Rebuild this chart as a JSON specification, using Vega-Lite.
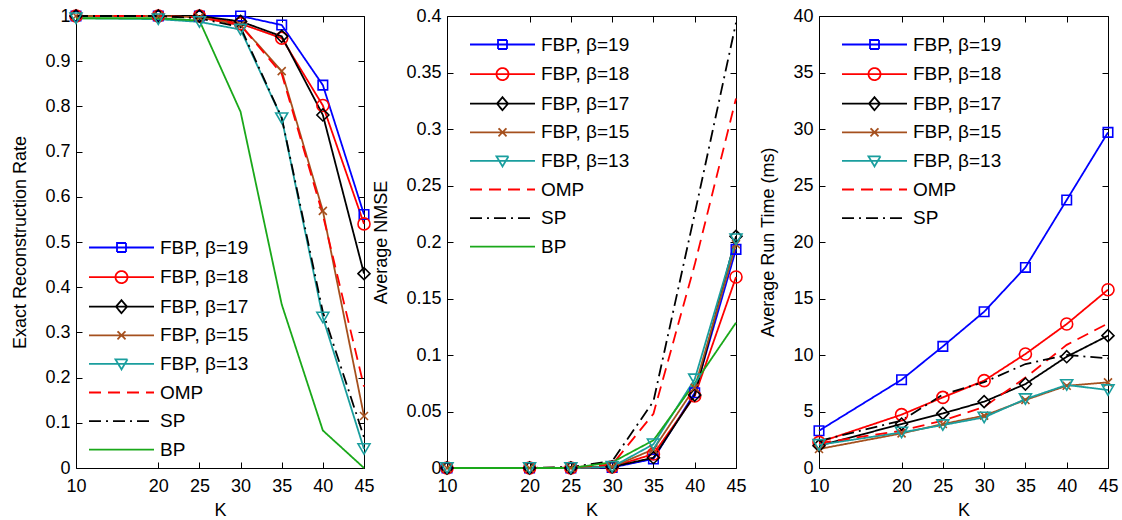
{
  "$schema": "https://vega.github.io/schema/vega-lite/v6.json",
  "background": "white",
  "padding": {"left": 11, "top": 6, "right": 5, "bottom": 5},
  "spacing": 83,
  "bounds": "flush",
  "datasets": {
    "rate": [
      {"series": "FBP, β=19", "K": 10, "value": 1}, {"series": "FBP, β=19", "K": 20, "value": 1}, {"series": "FBP, β=19", "K": 25, "value": 1}, {"series": "FBP, β=19", "K": 30, "value": 1}, {"series": "FBP, β=19", "K": 35, "value": 0.98}, {"series": "FBP, β=19", "K": 40, "value": 0.847}, {"series": "FBP, β=19", "K": 45, "value": 0.561},
      {"series": "FBP, β=18", "K": 10, "value": 1}, {"series": "FBP, β=18", "K": 20, "value": 1}, {"series": "FBP, β=18", "K": 25, "value": 1}, {"series": "FBP, β=18", "K": 30, "value": 0.983}, {"series": "FBP, β=18", "K": 35, "value": 0.951}, {"series": "FBP, β=18", "K": 40, "value": 0.802}, {"series": "FBP, β=18", "K": 45, "value": 0.54},
      {"series": "FBP, β=17", "K": 10, "value": 1}, {"series": "FBP, β=17", "K": 20, "value": 1}, {"series": "FBP, β=17", "K": 25, "value": 1}, {"series": "FBP, β=17", "K": 30, "value": 0.988}, {"series": "FBP, β=17", "K": 35, "value": 0.955}, {"series": "FBP, β=17", "K": 40, "value": 0.781}, {"series": "FBP, β=17", "K": 45, "value": 0.43},
      {"series": "FBP, β=15", "K": 10, "value": 1}, {"series": "FBP, β=15", "K": 20, "value": 1}, {"series": "FBP, β=15", "K": 25, "value": 0.997}, {"series": "FBP, β=15", "K": 30, "value": 0.98}, {"series": "FBP, β=15", "K": 35, "value": 0.878}, {"series": "FBP, β=15", "K": 40, "value": 0.569}, {"series": "FBP, β=15", "K": 45, "value": 0.115},
      {"series": "FBP, β=13", "K": 10, "value": 0.995}, {"series": "FBP, β=13", "K": 20, "value": 0.993}, {"series": "FBP, β=13", "K": 25, "value": 0.987}, {"series": "FBP, β=13", "K": 30, "value": 0.97}, {"series": "FBP, β=13", "K": 35, "value": 0.774}, {"series": "FBP, β=13", "K": 40, "value": 0.333}, {"series": "FBP, β=13", "K": 45, "value": 0.042},
      {"series": "OMP", "K": 10, "value": 1}, {"series": "OMP", "K": 20, "value": 1}, {"series": "OMP", "K": 25, "value": 0.997}, {"series": "OMP", "K": 30, "value": 0.98}, {"series": "OMP", "K": 35, "value": 0.872}, {"series": "OMP", "K": 40, "value": 0.56}, {"series": "OMP", "K": 45, "value": 0.18},
      {"series": "SP", "K": 10, "value": 1}, {"series": "SP", "K": 20, "value": 1}, {"series": "SP", "K": 25, "value": 0.995}, {"series": "SP", "K": 30, "value": 0.975}, {"series": "SP", "K": 35, "value": 0.775}, {"series": "SP", "K": 40, "value": 0.345}, {"series": "SP", "K": 45, "value": 0.068},
      {"series": "BP", "K": 10, "value": 0.995}, {"series": "BP", "K": 20, "value": 0.995}, {"series": "BP", "K": 25, "value": 0.99}, {"series": "BP", "K": 30, "value": 0.788}, {"series": "BP", "K": 35, "value": 0.362}, {"series": "BP", "K": 40, "value": 0.083}, {"series": "BP", "K": 45, "value": 0}
    ],
    "nmse": [
      {"series": "FBP, β=19", "K": 10, "value": 0}, {"series": "FBP, β=19", "K": 20, "value": 0}, {"series": "FBP, β=19", "K": 25, "value": 0}, {"series": "FBP, β=19", "K": 30, "value": 0.0005}, {"series": "FBP, β=19", "K": 35, "value": 0.008}, {"series": "FBP, β=19", "K": 40, "value": 0.0666}, {"series": "FBP, β=19", "K": 45, "value": 0.1935},
      {"series": "FBP, β=18", "K": 10, "value": 0}, {"series": "FBP, β=18", "K": 20, "value": 0}, {"series": "FBP, β=18", "K": 25, "value": 0}, {"series": "FBP, β=18", "K": 30, "value": 0.001}, {"series": "FBP, β=18", "K": 35, "value": 0.0124}, {"series": "FBP, β=18", "K": 40, "value": 0.0637}, {"series": "FBP, β=18", "K": 45, "value": 0.169},
      {"series": "FBP, β=17", "K": 10, "value": 0}, {"series": "FBP, β=17", "K": 20, "value": 0}, {"series": "FBP, β=17", "K": 25, "value": 0}, {"series": "FBP, β=17", "K": 30, "value": 0.001}, {"series": "FBP, β=17", "K": 35, "value": 0.0091}, {"series": "FBP, β=17", "K": 40, "value": 0.0646}, {"series": "FBP, β=17", "K": 45, "value": 0.205},
      {"series": "FBP, β=15", "K": 10, "value": 0}, {"series": "FBP, β=15", "K": 20, "value": 0}, {"series": "FBP, β=15", "K": 25, "value": 0}, {"series": "FBP, β=15", "K": 30, "value": 0.001}, {"series": "FBP, β=15", "K": 35, "value": 0.0165}, {"series": "FBP, β=15", "K": 40, "value": 0.071}, {"series": "FBP, β=15", "K": 45, "value": 0.198},
      {"series": "FBP, β=13", "K": 10, "value": 0}, {"series": "FBP, β=13", "K": 20, "value": 0}, {"series": "FBP, β=13", "K": 25, "value": 0}, {"series": "FBP, β=13", "K": 30, "value": 0.001}, {"series": "FBP, β=13", "K": 35, "value": 0.021}, {"series": "FBP, β=13", "K": 40, "value": 0.0785}, {"series": "FBP, β=13", "K": 45, "value": 0.2025},
      {"series": "OMP", "K": 10, "value": 0}, {"series": "OMP", "K": 20, "value": 0}, {"series": "OMP", "K": 25, "value": 0.0005}, {"series": "OMP", "K": 30, "value": 0.003}, {"series": "OMP", "K": 35, "value": 0.048}, {"series": "OMP", "K": 40, "value": 0.18}, {"series": "OMP", "K": 45, "value": 0.327},
      {"series": "SP", "K": 10, "value": 0}, {"series": "SP", "K": 20, "value": 0}, {"series": "SP", "K": 25, "value": 0.001}, {"series": "SP", "K": 30, "value": 0.006}, {"series": "SP", "K": 35, "value": 0.059}, {"series": "SP", "K": 40, "value": 0.225}, {"series": "SP", "K": 45, "value": 0.394},
      {"series": "BP", "K": 10, "value": 0}, {"series": "BP", "K": 20, "value": 0}, {"series": "BP", "K": 25, "value": 0}, {"series": "BP", "K": 30, "value": 0.005}, {"series": "BP", "K": 35, "value": 0.0245}, {"series": "BP", "K": 40, "value": 0.075}, {"series": "BP", "K": 45, "value": 0.1286}
    ],
    "time": [
      {"series": "FBP, β=19", "K": 10, "value": 3.3}, {"series": "FBP, β=19", "K": 20, "value": 7.81}, {"series": "FBP, β=19", "K": 25, "value": 10.76}, {"series": "FBP, β=19", "K": 30, "value": 13.83}, {"series": "FBP, β=19", "K": 35, "value": 17.75}, {"series": "FBP, β=19", "K": 40, "value": 23.72}, {"series": "FBP, β=19", "K": 45, "value": 29.7},
      {"series": "FBP, β=18", "K": 10, "value": 2.27}, {"series": "FBP, β=18", "K": 20, "value": 4.72}, {"series": "FBP, β=18", "K": 25, "value": 6.25}, {"series": "FBP, β=18", "K": 30, "value": 7.73}, {"series": "FBP, β=18", "K": 35, "value": 10.09}, {"series": "FBP, β=18", "K": 40, "value": 12.74}, {"series": "FBP, β=18", "K": 45, "value": 15.78},
      {"series": "FBP, β=17", "K": 10, "value": 1.97}, {"series": "FBP, β=17", "K": 20, "value": 3.89}, {"series": "FBP, β=17", "K": 25, "value": 4.83}, {"series": "FBP, β=17", "K": 30, "value": 5.87}, {"series": "FBP, β=17", "K": 35, "value": 7.43}, {"series": "FBP, β=17", "K": 40, "value": 9.85}, {"series": "FBP, β=17", "K": 45, "value": 11.71},
      {"series": "FBP, β=15", "K": 10, "value": 1.68}, {"series": "FBP, β=15", "K": 20, "value": 3.06}, {"series": "FBP, β=15", "K": 25, "value": 3.89}, {"series": "FBP, β=15", "K": 30, "value": 4.63}, {"series": "FBP, β=15", "K": 35, "value": 6.02}, {"series": "FBP, β=15", "K": 40, "value": 7.28}, {"series": "FBP, β=15", "K": 45, "value": 7.58},
      {"series": "FBP, β=13", "K": 10, "value": 2.05}, {"series": "FBP, β=13", "K": 20, "value": 3.15}, {"series": "FBP, β=13", "K": 25, "value": 3.8}, {"series": "FBP, β=13", "K": 30, "value": 4.48}, {"series": "FBP, β=13", "K": 35, "value": 6.1}, {"series": "FBP, β=13", "K": 40, "value": 7.35}, {"series": "FBP, β=13", "K": 45, "value": 6.9},
      {"series": "OMP", "K": 10, "value": 2.2}, {"series": "OMP", "K": 20, "value": 3.3}, {"series": "OMP", "K": 25, "value": 4.2}, {"series": "OMP", "K": 30, "value": 5.4}, {"series": "OMP", "K": 35, "value": 8.0}, {"series": "OMP", "K": 40, "value": 10.9}, {"series": "OMP", "K": 45, "value": 12.8},
      {"series": "SP", "K": 10, "value": 2.4}, {"series": "SP", "K": 20, "value": 4.2}, {"series": "SP", "K": 25, "value": 6.5}, {"series": "SP", "K": 30, "value": 7.6}, {"series": "SP", "K": 35, "value": 9.2}, {"series": "SP", "K": 40, "value": 10.0}, {"series": "SP", "K": 45, "value": 9.7}
    ]
  },
  "hconcat": [
    {
      "width": 288, "height": 452,
      "data": {"name": "rate"},
      "layer": [
        {
          "encoding": {
            "x": {"field": "K", "type": "quantitative", "scale": {"domain": [10, 45], "nice": false, "zero": false}, "axis": {"values": [10, 20, 25, 30, 35, 40, 45], "title": "K"}},
            "y": {"field": "value", "type": "quantitative", "scale": {"domain": [0, 1], "nice": false, "zero": false}, "axis": {"values": [0, 0.1, 0.2, 0.3, 0.4, 0.5, 0.6, 0.7, 0.8, 0.9, 1], "format": "~g", "title": "Exact Reconstruction Rate"}}
          },
          "layer": [
            {"mark": {"type": "line", "strokeWidth": 1.8},
             "encoding": {
               "color": {"field": "series", "type": "nominal", "scale": {"domain": ["FBP, β=19","FBP, β=18","FBP, β=17","FBP, β=15","FBP, β=13","OMP","SP","BP"], "range": ["#0000ff","#ff0000","#000000","#a5501e","#1a9e9e","#ff0000","#000000","#1aa81a"]}},
               "strokeDash": {"field": "series", "type": "nominal", "scale": {"domain": ["FBP, β=19","FBP, β=18","FBP, β=17","FBP, β=15","FBP, β=13","OMP","SP","BP"], "range": [[1,0],[1,0],[1,0],[1,0],[1,0],[12,7],[12,5,2,5],[1,0]]}}
             }},
            {"transform": [{"filter": "datum.series === 'FBP, β=19'"}], "mark": {"type": "point", "shape": "square", "filled": false, "size": 90, "strokeWidth": 1.6, "color": "#0000ff", "opacity": 1}},
            {"transform": [{"filter": "datum.series === 'FBP, β=18'"}], "mark": {"type": "point", "shape": "circle", "filled": false, "size": 144, "strokeWidth": 1.6, "color": "#ff0000", "opacity": 1}},
            {"transform": [{"filter": "datum.series === 'FBP, β=17'"}], "mark": {"type": "point", "shape": "diamond", "filled": false, "size": 144, "strokeWidth": 1.6, "color": "#000000", "opacity": 1}},
            {"transform": [{"filter": "datum.series === 'FBP, β=15'"}], "mark": {"type": "point", "shape": "M-1,-1L1,1M-1,1L1,-1", "filled": false, "size": 64, "strokeWidth": 1.6, "color": "#a5501e", "opacity": 1}},
            {"transform": [{"filter": "datum.series === 'FBP, β=13'"}], "mark": {"type": "point", "shape": "triangle-down", "filled": false, "size": 144, "strokeWidth": 1.6, "color": "#1a9e9e", "opacity": 1}}
          ]
        },
        {
          "transform": [{"filter": "false"}],
          "mark": {"type": "point", "filled": false, "strokeWidth": 1.6, "opacity": 1},
          "encoding": {
            "x": {"field": "K", "type": "quantitative", "axis": {"orient": "top", "labels": false, "title": null, "values": [10, 20, 25, 30, 35, 40, 45]}},
            "y": {"field": "value", "type": "quantitative", "axis": {"orient": "right", "labels": false, "title": null, "values": [0, 0.1, 0.2, 0.3, 0.4, 0.5, 0.6, 0.7, 0.8, 0.9, 1]}},
            "color": {"field": "series", "type": "nominal", "scale": {"domain": ["FBP, β=19","FBP, β=18","FBP, β=17","FBP, β=15","FBP, β=13","OMP","SP","BP"], "range": ["#0000ff","#ff0000","#000000","#a5501e","#1a9e9e","#ff0000","#000000","#1aa81a"]}, "legend": {"title": null, "orient": "none", "legendX": 36, "legendY": 222}},
            "strokeDash": {"field": "series", "type": "nominal", "scale": {"domain": ["FBP, β=19","FBP, β=18","FBP, β=17","FBP, β=15","FBP, β=13","OMP","SP","BP"], "range": [[1,0],[1,0],[1,0],[1,0],[1,0],[12,7],[12,5,2,5],[1,0]]}, "legend": {"title": null, "orient": "none", "legendX": 36, "legendY": 222}},
            "shape": {"field": "series", "type": "nominal", "scale": {"domain": ["FBP, β=19","FBP, β=18","FBP, β=17","FBP, β=15","FBP, β=13","OMP","SP","BP"], "range": ["M-6.5,0H6.5M-0.9,-0.9H0.9V0.9H-0.9Z","M-6.5,0H6.5M-1.2,0A1.2,1.2,0,1,0,1.2,0A1.2,1.2,0,1,0,-1.2,0Z","M-6.5,0H6.5M-1.1,0L0,-1.3L1.1,0L0,1.3Z","M-6.5,0H6.5M-0.8,-0.8L0.8,0.8M-0.8,0.8L0.8,-0.8","M-6.5,0H6.5M-1.2,-0.9H1.2L0,1.1Z","M-6.5,0H6.5","M-6.5,0H6.5","M-6.5,0H6.5"]}, "legend": {"title": null, "orient": "none", "legendX": 36, "legendY": 222}}
          }
        }
      ],
      "resolve": {"axis": {"x": "independent", "y": "independent"}}
    },
    {
      "width": 289, "height": 452,
      "data": {"name": "nmse"},
      "layer": [
        {
          "encoding": {
            "x": {"field": "K", "type": "quantitative", "scale": {"domain": [10, 45], "nice": false, "zero": false}, "axis": {"values": [10, 20, 25, 30, 35, 40, 45], "title": "K"}},
            "y": {"field": "value", "type": "quantitative", "scale": {"domain": [0, 0.4], "nice": false, "zero": false}, "axis": {"values": [0, 0.05, 0.1, 0.15, 0.2, 0.25, 0.3, 0.35, 0.4], "format": "~g", "title": "Average NMSE"}}
          },
          "layer": [
            {"mark": {"type": "line", "strokeWidth": 1.8},
             "encoding": {
               "color": {"field": "series", "type": "nominal", "scale": {"domain": ["FBP, β=19","FBP, β=18","FBP, β=17","FBP, β=15","FBP, β=13","OMP","SP","BP"], "range": ["#0000ff","#ff0000","#000000","#a5501e","#1a9e9e","#ff0000","#000000","#1aa81a"]}},
               "strokeDash": {"field": "series", "type": "nominal", "scale": {"domain": ["FBP, β=19","FBP, β=18","FBP, β=17","FBP, β=15","FBP, β=13","OMP","SP","BP"], "range": [[1,0],[1,0],[1,0],[1,0],[1,0],[12,7],[12,5,2,5],[1,0]]}}
             }},
            {"transform": [{"filter": "datum.series === 'FBP, β=19'"}], "mark": {"type": "point", "shape": "square", "filled": false, "size": 90, "strokeWidth": 1.6, "color": "#0000ff", "opacity": 1}},
            {"transform": [{"filter": "datum.series === 'FBP, β=18'"}], "mark": {"type": "point", "shape": "circle", "filled": false, "size": 144, "strokeWidth": 1.6, "color": "#ff0000", "opacity": 1}},
            {"transform": [{"filter": "datum.series === 'FBP, β=17'"}], "mark": {"type": "point", "shape": "diamond", "filled": false, "size": 144, "strokeWidth": 1.6, "color": "#000000", "opacity": 1}},
            {"transform": [{"filter": "datum.series === 'FBP, β=15'"}], "mark": {"type": "point", "shape": "M-1,-1L1,1M-1,1L1,-1", "filled": false, "size": 64, "strokeWidth": 1.6, "color": "#a5501e", "opacity": 1}},
            {"transform": [{"filter": "datum.series === 'FBP, β=13'"}], "mark": {"type": "point", "shape": "triangle-down", "filled": false, "size": 144, "strokeWidth": 1.6, "color": "#1a9e9e", "opacity": 1}}
          ]
        },
        {
          "transform": [{"filter": "false"}],
          "mark": {"type": "point", "filled": false, "strokeWidth": 1.6, "opacity": 1},
          "encoding": {
            "x": {"field": "K", "type": "quantitative", "axis": {"orient": "top", "labels": false, "title": null, "values": [10, 20, 25, 30, 35, 40, 45]}},
            "y": {"field": "value", "type": "quantitative", "axis": {"orient": "right", "labels": false, "title": null, "values": [0, 0.05, 0.1, 0.15, 0.2, 0.25, 0.3, 0.35, 0.4]}},
            "color": {"field": "series", "type": "nominal", "scale": {"domain": ["FBP, β=19","FBP, β=18","FBP, β=17","FBP, β=15","FBP, β=13","OMP","SP","BP"], "range": ["#0000ff","#ff0000","#000000","#a5501e","#1a9e9e","#ff0000","#000000","#1aa81a"]}, "legend": {"title": null, "orient": "none", "legendX": 46, "legendY": 19}},
            "strokeDash": {"field": "series", "type": "nominal", "scale": {"domain": ["FBP, β=19","FBP, β=18","FBP, β=17","FBP, β=15","FBP, β=13","OMP","SP","BP"], "range": [[1,0],[1,0],[1,0],[1,0],[1,0],[12,7],[12,5,2,5],[1,0]]}, "legend": {"title": null, "orient": "none", "legendX": 46, "legendY": 19}},
            "shape": {"field": "series", "type": "nominal", "scale": {"domain": ["FBP, β=19","FBP, β=18","FBP, β=17","FBP, β=15","FBP, β=13","OMP","SP","BP"], "range": ["M-6.5,0H6.5M-0.9,-0.9H0.9V0.9H-0.9Z","M-6.5,0H6.5M-1.2,0A1.2,1.2,0,1,0,1.2,0A1.2,1.2,0,1,0,-1.2,0Z","M-6.5,0H6.5M-1.1,0L0,-1.3L1.1,0L0,1.3Z","M-6.5,0H6.5M-0.8,-0.8L0.8,0.8M-0.8,0.8L0.8,-0.8","M-6.5,0H6.5M-1.2,-0.9H1.2L0,1.1Z","M-6.5,0H6.5","M-6.5,0H6.5","M-6.5,0H6.5"]}, "legend": {"title": null, "orient": "none", "legendX": 46, "legendY": 19}}
          }
        }
      ],
      "resolve": {"axis": {"x": "independent", "y": "independent"}}
    },
    {
      "width": 289, "height": 452,
      "data": {"name": "time"},
      "layer": [
        {
          "encoding": {
            "x": {"field": "K", "type": "quantitative", "scale": {"domain": [10, 45], "nice": false, "zero": false}, "axis": {"values": [10, 20, 25, 30, 35, 40, 45], "title": "K"}},
            "y": {"field": "value", "type": "quantitative", "scale": {"domain": [0, 40], "nice": false, "zero": false}, "axis": {"values": [0, 5, 10, 15, 20, 25, 30, 35, 40], "format": "~g", "title": "Average Run Time (ms)"}}
          },
          "layer": [
            {"mark": {"type": "line", "strokeWidth": 1.8},
             "encoding": {
               "color": {"field": "series", "type": "nominal", "scale": {"domain": ["FBP, β=19","FBP, β=18","FBP, β=17","FBP, β=15","FBP, β=13","OMP","SP"], "range": ["#0000ff","#ff0000","#000000","#a5501e","#1a9e9e","#ff0000","#000000"]}},
               "strokeDash": {"field": "series", "type": "nominal", "scale": {"domain": ["FBP, β=19","FBP, β=18","FBP, β=17","FBP, β=15","FBP, β=13","OMP","SP"], "range": [[1,0],[1,0],[1,0],[1,0],[1,0],[12,7],[12,5,2,5]]}}
             }},
            {"transform": [{"filter": "datum.series === 'FBP, β=19'"}], "mark": {"type": "point", "shape": "square", "filled": false, "size": 90, "strokeWidth": 1.6, "color": "#0000ff", "opacity": 1}},
            {"transform": [{"filter": "datum.series === 'FBP, β=18'"}], "mark": {"type": "point", "shape": "circle", "filled": false, "size": 144, "strokeWidth": 1.6, "color": "#ff0000", "opacity": 1}},
            {"transform": [{"filter": "datum.series === 'FBP, β=17'"}], "mark": {"type": "point", "shape": "diamond", "filled": false, "size": 144, "strokeWidth": 1.6, "color": "#000000", "opacity": 1}},
            {"transform": [{"filter": "datum.series === 'FBP, β=15'"}], "mark": {"type": "point", "shape": "M-1,-1L1,1M-1,1L1,-1", "filled": false, "size": 64, "strokeWidth": 1.6, "color": "#a5501e", "opacity": 1}},
            {"transform": [{"filter": "datum.series === 'FBP, β=13'"}], "mark": {"type": "point", "shape": "triangle-down", "filled": false, "size": 144, "strokeWidth": 1.6, "color": "#1a9e9e", "opacity": 1}}
          ]
        },
        {
          "transform": [{"filter": "false"}],
          "mark": {"type": "point", "filled": false, "strokeWidth": 1.6, "opacity": 1},
          "encoding": {
            "x": {"field": "K", "type": "quantitative", "axis": {"orient": "top", "labels": false, "title": null, "values": [10, 20, 25, 30, 35, 40, 45]}},
            "y": {"field": "value", "type": "quantitative", "axis": {"orient": "right", "labels": false, "title": null, "values": [0, 5, 10, 15, 20, 25, 30, 35, 40]}},
            "color": {"field": "series", "type": "nominal", "scale": {"domain": ["FBP, β=19","FBP, β=18","FBP, β=17","FBP, β=15","FBP, β=13","OMP","SP"], "range": ["#0000ff","#ff0000","#000000","#a5501e","#1a9e9e","#ff0000","#000000"]}, "legend": {"title": null, "orient": "none", "legendX": 46, "legendY": 19}},
            "strokeDash": {"field": "series", "type": "nominal", "scale": {"domain": ["FBP, β=19","FBP, β=18","FBP, β=17","FBP, β=15","FBP, β=13","OMP","SP"], "range": [[1,0],[1,0],[1,0],[1,0],[1,0],[12,7],[12,5,2,5]]}, "legend": {"title": null, "orient": "none", "legendX": 46, "legendY": 19}},
            "shape": {"field": "series", "type": "nominal", "scale": {"domain": ["FBP, β=19","FBP, β=18","FBP, β=17","FBP, β=15","FBP, β=13","OMP","SP"], "range": ["M-6.5,0H6.5M-0.9,-0.9H0.9V0.9H-0.9Z","M-6.5,0H6.5M-1.2,0A1.2,1.2,0,1,0,1.2,0A1.2,1.2,0,1,0,-1.2,0Z","M-6.5,0H6.5M-1.1,0L0,-1.3L1.1,0L0,1.3Z","M-6.5,0H6.5M-0.8,-0.8L0.8,0.8M-0.8,0.8L0.8,-0.8","M-6.5,0H6.5M-1.2,-0.9H1.2L0,1.1Z","M-6.5,0H6.5","M-6.5,0H6.5"]}, "legend": {"title": null, "orient": "none", "legendX": 46, "legendY": 19}}
          }
        }
      ],
      "resolve": {"axis": {"x": "independent", "y": "independent"}}
    }
  ],
  "resolve": {
    "scale": {"color": "independent", "strokeDash": "independent", "shape": "independent"},
    "legend": {"color": "independent", "strokeDash": "independent", "shape": "independent"}
  },
  "config": {
    "font": "Liberation Sans",
    "view": {"stroke": "#000000", "strokeWidth": 1},
    "axis": {
      "grid": false, "domain": false, "labelFlush": false, "labelOverlap": false,
      "labelFont": "Liberation Sans", "labelFontSize": 18, "labelColor": "#000000",
      "titleFont": "Liberation Sans", "titleFontSize": 18, "titleFontWeight": "normal", "titleColor": "#000000",
      "tickColor": "#000000", "tickSize": -6, "tickWidth": 1
    },
    "axisX": {"labelPadding": 15, "titlePadding": 6},
    "axisY": {"labelPadding": 12, "titlePadding": 15},
    "legend": {
      "labelFont": "Liberation Sans", "labelFontSize": 19, "labelColor": "#000000", "labelLimit": 0,
      "symbolSize": 100, "symbolStrokeWidth": 1.8, "symbolFillColor": "transparent", "labelOffset": 29, "rowPadding": 8.6, "padding": 0
    }
  }
}
